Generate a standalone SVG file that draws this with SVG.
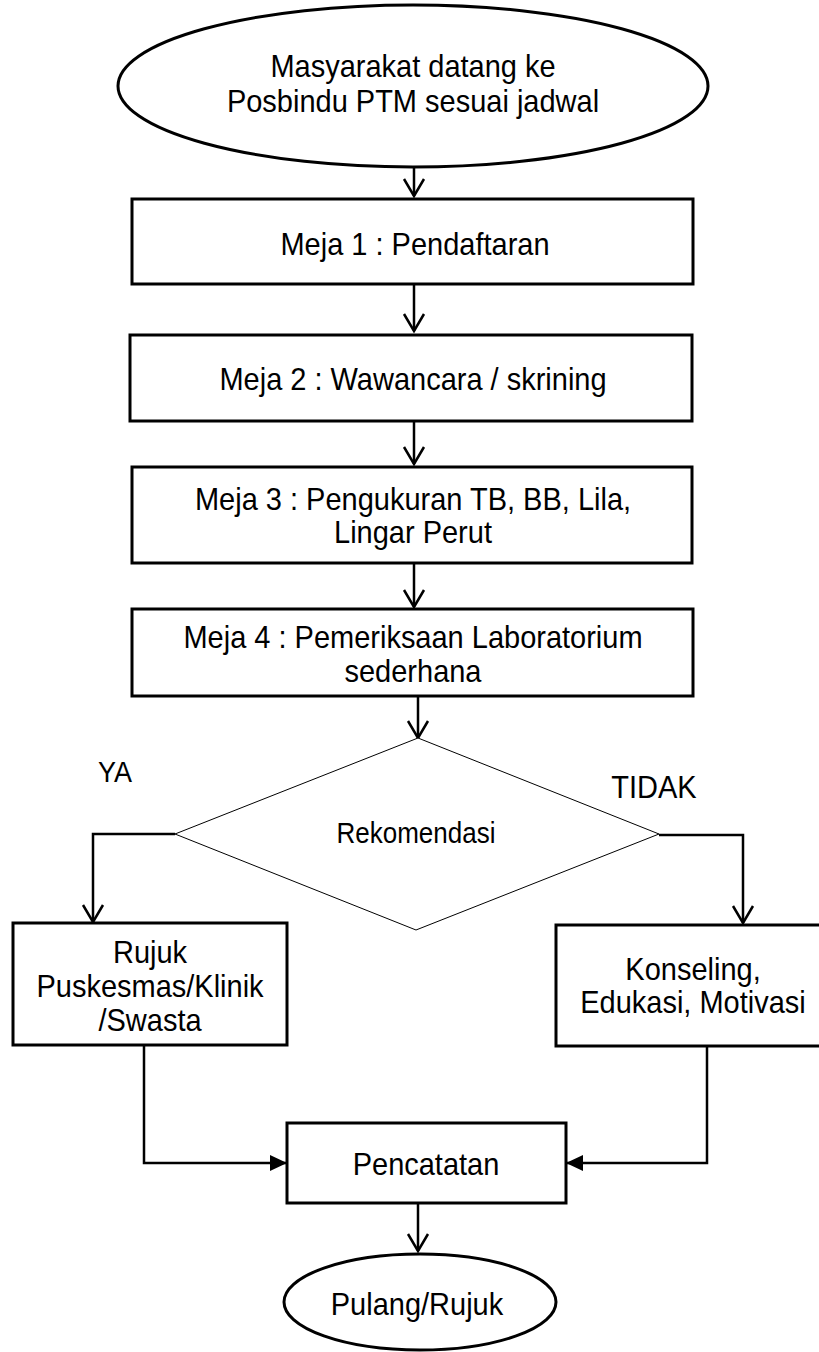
<svg xmlns="http://www.w3.org/2000/svg" width="819" height="1352" viewBox="0 0 819 1352">
<style>
.n{fill:#fff;stroke:#000;stroke-width:3}
.d{fill:#fff;stroke:#000;stroke-width:1}
.t{font-family:"Liberation Sans",Arial,sans-serif;font-size:29px;fill:#000;text-anchor:middle}
.c{fill:none;stroke:#000;stroke-width:2.5}
</style>
<defs>
<marker id="v" markerWidth="22" markerHeight="24" refX="18" refY="12" orient="auto" markerUnits="userSpaceOnUse" viewBox="0 0 22 24">
<path d="M1,2 L18,12 L1,22" fill="none" stroke="#000" stroke-width="2.5"/>
</marker>
<marker id="f" markerWidth="18" markerHeight="18" refX="16" refY="9" orient="auto" markerUnits="userSpaceOnUse" viewBox="0 0 18 18">
<path d="M0,1 L17,9 L0,17 Z" fill="#000"/>
</marker>
</defs>
<g id="connectors" class="c">
<line x1="414" y1="167" x2="414" y2="196" marker-end="url(#v)"/>
<line x1="414" y1="285" x2="414" y2="331" marker-end="url(#v)"/>
<line x1="414" y1="421" x2="414" y2="464" marker-end="url(#v)"/>
<line x1="414" y1="564" x2="414" y2="607" marker-end="url(#v)"/>
<line x1="418" y1="697" x2="418" y2="738" marker-end="url(#v)"/>
<polyline points="175,834 93,834 93,922" marker-end="url(#v)"/>
<polyline points="659,835 743,835 743,923" marker-end="url(#v)"/>
<polyline points="144,1046 144,1163 286,1163" marker-end="url(#f)"/>
<polyline points="707,1047 707,1163 567,1163" marker-end="url(#f)"/>
<line x1="418" y1="1204" x2="418" y2="1251" marker-end="url(#v)"/>
</g>
<g id="start">
<ellipse class="n" cx="413" cy="86" rx="295" ry="81"/>
<text class="t" transform="translate(413,77) scale(1,1.1)">Masyarakat datang ke</text>
<text class="t" transform="translate(413,112) scale(1,1.1)">Posbindu PTM sesuai jadwal</text>
</g>
<g id="meja1">
<rect class="n" x="132" y="199" width="561" height="85"/>
<text class="t" transform="translate(415,255) scale(1,1.1)">Meja 1 : Pendaftaran</text>
</g>
<g id="meja2">
<rect class="n" x="130" y="335" width="562" height="86"/>
<text class="t" transform="translate(413,390) scale(1,1.1)">Meja 2 : Wawancara / skrining</text>
</g>
<g id="meja3">
<rect class="n" x="132" y="467" width="560" height="96"/>
<text class="t" transform="translate(413,510) scale(1,1.1)">Meja 3 : Pengukuran TB, BB, Lila,</text>
<text class="t" transform="translate(413,543) scale(1,1.1)">Lingar Perut</text>
</g>
<g id="meja4">
<rect class="n" x="132" y="609" width="561" height="87"/>
<text class="t" transform="translate(413,648) scale(1,1.1)">Meja 4 : Pemeriksaan Laboratorium</text>
<text class="t" transform="translate(413,682) scale(1,1.1)">sederhana</text>
</g>
<g id="rekomendasi">
<polygon class="d" points="418,738 659,834 416,930 175,834"/>
<text class="t" transform="translate(416,843) scale(1,1.1)" style="font-size:26px">Rekomendasi</text>
</g>
<g id="label-ya"><text class="t" transform="translate(115,782) scale(1,1.1)" style="font-size:27px">YA</text></g>
<g id="label-tidak"><text class="t" transform="translate(654,798) scale(1,1.1)">TIDAK</text></g>
<g id="rujuk">
<rect class="n" x="13" y="923" width="274" height="122"/>
<text class="t" transform="translate(150,963) scale(1,1.1)">Rujuk</text>
<text class="t" transform="translate(150,997) scale(1,1.1)">Puskesmas/Klinik</text>
<text class="t" transform="translate(150,1031) scale(1,1.1)">/Swasta</text>
</g>
<g id="konseling">
<rect class="n" x="556" y="925" width="280" height="121"/>
<text class="t" transform="translate(693,980) scale(1,1.1)">Konseling,</text>
<text class="t" transform="translate(693,1013) scale(1,1.1)">Edukasi, Motivasi</text>
</g>
<g id="pencatatan">
<rect class="n" x="287" y="1123" width="279" height="80"/>
<text class="t" transform="translate(426,1175) scale(1,1.1)">Pencatatan</text>
</g>
<g id="end">
<ellipse class="n" cx="420" cy="1302" rx="136" ry="48"/>
<text class="t" transform="translate(417,1315) scale(1,1.1)">Pulang/Rujuk</text>
</g>
</svg>
